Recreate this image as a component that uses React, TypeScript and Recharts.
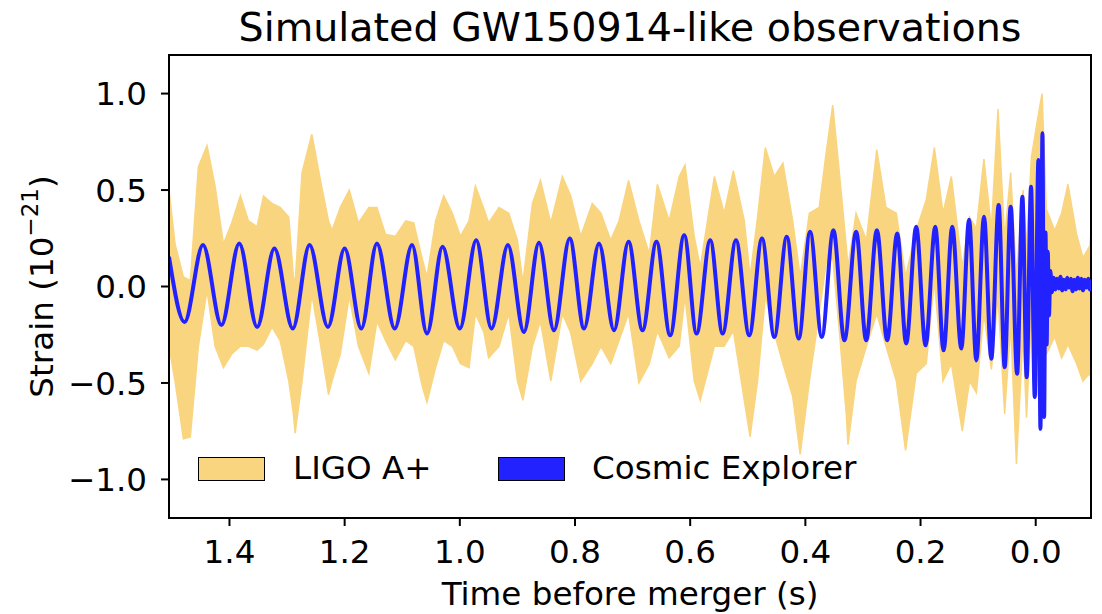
import { Area, ComposedChart, Line, ReferenceArea, XAxis, YAxis } from 'recharts'

// Cosmic Explorer trace: turning points (time before merger in s, strain in 1e-21)
const ceTime = [
  1.505, 1.478, 1.446, 1.414, 1.383, 1.352, 1.322, 1.29, 1.261, 1.229,
  1.2, 1.171, 1.144, 1.113, 1.083, 1.057, 1.03, 1.0, 0.9715, 0.945,
  0.9165, 0.8887, 0.8626, 0.8365, 0.8092, 0.7843, 0.7583, 0.7322, 0.7071, 0.6828,
  0.6585, 0.6348, 0.6104, 0.5889, 0.5652, 0.5437, 0.5205, 0.4974, 0.4753, 0.4539,
  0.4323, 0.4115, 0.3918, 0.3715, 0.3513, 0.3322, 0.3118, 0.2944, 0.2758, 0.2579,
  0.2405, 0.2249, 0.2075, 0.1913, 0.1744, 0.16, 0.1449, 0.1292, 0.1157, 0.1031,
  0.0898, 0.0771, 0.0643, 0.0539, 0.0435, 0.0323, 0.0231, 0.0157, 0.0081, 0.0017,
  -0.0047, -0.0082, -0.0117, -0.0146, -0.017, -0.019, -0.021, -0.023, -0.0255, -0.028,
  -0.031, -0.034, -0.037, -0.04, -0.043, -0.046, -0.049, -0.052, -0.055, -0.058,
  -0.061, -0.064, -0.067, -0.07, -0.073, -0.076, -0.079, -0.082, -0.085, -0.088,
  -0.091, -0.094, -0.096,
]
const ceStrain = [
  0.154, -0.184, 0.215, -0.2, 0.223, -0.21, 0.197, -0.218, 0.215, -0.21,
  0.197, -0.218, 0.223, -0.218, 0.215, -0.244, 0.206, -0.218, 0.24, -0.218,
  0.215, -0.236, 0.227, -0.227, 0.249, -0.218, 0.223, -0.227, 0.232, -0.227,
  0.232, -0.253, 0.266, -0.244, 0.24, -0.244, 0.24, -0.253, 0.249, -0.262,
  0.258, -0.27, 0.284, -0.262, 0.292, -0.279, 0.284, -0.279, 0.292, -0.279,
  0.275, -0.296, 0.31, -0.305, 0.31, -0.331, 0.31, -0.322, 0.346, -0.383,
  0.362, -0.374, 0.422, -0.418, 0.414, -0.452, 0.465, -0.47, 0.517, -0.573,
  0.656, -0.738, 0.795, -0.677, 0.28, -0.3, 0.18, -0.15, 0.08, -0.03,
  0.045, -0.015, 0.04, -0.01, 0.05, -0.02, 0.035, -0.015, 0.045, -0.005,
  0.04, -0.025, 0.035, -0.015, 0.045, -0.01, 0.04, -0.02, 0.035, -0.005,
  0.04, -0.015, 0.035,
]

// LIGO A+ trace: lower / upper extent of the noisy band at each sample time
const ligoTime = [
  1.505, 1.4945, 1.48, 1.468, 1.454, 1.439, 1.425, 1.4105, 1.396, 1.381,
  1.367, 1.352, 1.341, 1.326, 1.312, 1.297, 1.289, 1.286, 1.274, 1.257,
  1.242, 1.228, 1.222, 1.2075, 1.192, 1.176, 1.158, 1.144, 1.129, 1.112,
  1.094, 1.08, 1.065, 1.057, 1.042, 1.028, 1.013, 0.999, 0.984, 0.973,
  0.958, 0.95, 0.932, 0.915, 0.9, 0.8905, 0.874, 0.86, 0.842, 0.822,
  0.8075, 0.79, 0.77, 0.755, 0.738, 0.7235, 0.707, 0.689, 0.671, 0.657,
  0.6365, 0.619, 0.609, 0.593, 0.5825, 0.558, 0.541, 0.525, 0.506, 0.496,
  0.483, 0.4695, 0.454, 0.439, 0.422, 0.409, 0.393, 0.376, 0.364, 0.3525,
  0.341, 0.329, 0.326, 0.312, 0.294, 0.276, 0.26, 0.242, 0.226, 0.2075,
  0.19, 0.176, 0.161, 0.1465, 0.1275, 0.115, 0.103, 0.09, 0.077, 0.0655,
  0.054, 0.0435, 0.0335, 0.022, 0.016, 0.0075, -0.004, -0.011, -0.0185, -0.033,
  -0.045, -0.056, -0.071, -0.082, -0.094, -0.096,
]
const ligoLow = [
  -0.31, -0.49, -0.79, -0.78, -0.31, -0.02, -0.31, -0.42, -0.35, -0.31,
  -0.31, -0.33, -0.3, -0.21, -0.28, -0.49, -0.66, -0.76, -0.49, -0.04,
  -0.3, -0.56, -0.49, -0.35, -0.05, -0.31, -0.45, -0.18, -0.28, -0.38,
  -0.28, -0.31, -0.52, -0.6, -0.42, -0.28, -0.31, -0.4, -0.42, -0.14,
  -0.24, -0.37, -0.31, -0.14, -0.49, -0.59, -0.31, -0.18, -0.49, -0.14,
  -0.24, -0.49, -0.4, -0.31, -0.4, -0.28, -0.14, -0.5, -0.4, -0.23,
  -0.37, -0.31, -0.05, -0.49, -0.59, -0.31, -0.31, -0.23, -0.59, -0.78,
  -0.49, -0.05, -0.24, -0.4, -0.57, -0.87, -0.49, -0.14, 0.12, 0.15,
  -0.23, -0.66, -0.82, -0.49, -0.31, -0.14, -0.31, -0.49, -0.85, -0.45,
  -0.4, 0.03, -0.49, -0.4, -0.75, -0.49, -0.55, -0.14, -0.43, -0.05,
  -0.66, -0.2, -0.92, -0.25, -0.68, -0.15, -0.57, -0.3, -0.35, -0.26,
  -0.37, -0.3, -0.4, -0.49, -0.45, -0.48,
]
const ligoHigh = [
  0.5, 0.22, 0.05, 0.03, 0.62, 0.73, 0.52, 0.22, 0.33, 0.47,
  0.34, 0.31, 0.47, 0.43, 0.41, 0.36, 0.05, 0.02, 0.59, 0.79,
  0.55, 0.34, 0.29, 0.41, 0.5, 0.33, 0.41, 0.41, 0.27, 0.26,
  0.34, 0.33, 0.14, 0.05, 0.34, 0.47, 0.38, 0.26, 0.34, 0.52,
  0.4, 0.33, 0.41, 0.38, 0.24, 0.02, 0.43, 0.55, 0.33, 0.57,
  0.47, 0.26, 0.43, 0.38, 0.24, 0.34, 0.55, 0.34, 0.17, 0.53,
  0.34, 0.57, 0.63, 0.26, 0.1, 0.57, 0.38, 0.6, 0.34, 0.05,
  0.36, 0.72, 0.57, 0.64, 0.34, 0.05, 0.38, 0.41, 0.69, 0.94,
  0.59, 0.21, 0.1, 0.38, 0.24, 0.71, 0.41, 0.38, 0.05, 0.29,
  0.45, 0.72, 0.38, 0.57, 0.1, 0.36, 0.3, 0.66, 0.3, 0.92,
  0.25, 0.59, 0.05, 0.5, 0.2, 0.67, 0.88, 1.0, 0.4, 0.29,
  0.38, 0.53, 0.27, 0.15, 0.21, 0.28,
]

const xTicks = [1.4, 1.2, 1.0, 0.8, 0.6, 0.4, 0.2, 0.0]
const yTicks = [-1.0, -0.5, 0.0, 0.5, 1.0]
const xDomain: [number, number] = [-0.096, 1.505]
const yDomain: [number, number] = [-1.2, 1.2]

const LIGO_COLOR = '#fad580'
const CE_COLOR = '#2222ff'
const FONT = 'DejaVu Sans'
const FS = 32.6

const ceData = ceTime.map((t, i) => ({ t, strain: ceStrain[i] }))
const ligoData = ligoTime.map((t, i) => ({ t, band: [ligoLow[i], ligoHigh[i]] }))

const fmt = (v: number) => v.toFixed(1).replace('-', '\u2212')

const tickStyle = { fontSize: FS, fill: '#000', fontFamily: FONT }
const lineStyle = { stroke: '#000', strokeWidth: 2 }

function YLabel(props: any) {
  const vb = props.viewBox
  const cx = vb.x + 53
  const cy = vb.y + vb.height / 2
  return (
    <text x={cx} y={cy} transform={`rotate(-90 ${cx} ${cy})`} textAnchor="middle" fontSize={FS} fontFamily={FONT} fill="#000">
      Strain (10<tspan dy={-15} fontSize={23}>{'\u221221'}</tspan>
      <tspan dy={15}>)</tspan>
    </text>
  )
}

function XLabel(props: any) {
  const vb = props.viewBox
  return (
    <text x={vb.x + vb.width / 2} y={vb.y + 87} textAnchor="middle" fontSize={FS} fontFamily={FONT} fill="#000">
      Time before merger (s)
    </text>
  )
}

function LegendItem({ color, label, left, textLeft }: { color: string; label: string; left: number; textLeft: number }) {
  return (
    <>
      <div style={{ position: 'absolute', left, top: 457, width: 67, height: 24, background: color, border: '1.5px solid #000', boxSizing: 'border-box' }} />
      <div style={{ position: 'absolute', left: textLeft, top: 452, fontSize: FS, lineHeight: 1, whiteSpace: 'nowrap' }}>{label}</div>
    </>
  )
}

export default function App() {
  return (
    <div style={{ position: 'absolute', left: 0, top: 0, width: 1102, height: 614, background: '#fff', fontFamily: FONT }}>
      <ComposedChart width={1102} height={614} margin={{ top: 55, right: 11, bottom: 0, left: 0 }}>
        <XAxis
          dataKey="t"
          type="number"
          domain={xDomain}
          reversed
          allowDataOverflow
          ticks={xTicks}
          interval={0}
          tickFormatter={fmt}
          tick={tickStyle}
          tickLine={lineStyle}
          axisLine={lineStyle}
          tickSize={8}
          tickMargin={14}
          height={96}
          label={{ content: XLabel }}
        />
        <YAxis
          type="number"
          domain={yDomain}
          allowDataOverflow
          ticks={yTicks}
          interval={0}
          tickFormatter={fmt}
          tick={tickStyle}
          tickLine={lineStyle}
          axisLine={lineStyle}
          tickSize={8}
          tickMargin={14}
          width={169}
          label={{ content: YLabel }}
        />
        <Area
          data={ligoData}
          dataKey="band"
          type="linear"
          fill={LIGO_COLOR}
          fillOpacity={1}
          stroke={LIGO_COLOR}
          strokeWidth={1.5}
          isAnimationActive={false}
        />
        <Line
          data={ceData}
          dataKey="strain"
          type="monotone"
          stroke={CE_COLOR}
          strokeWidth={4}
          dot={false}
          isAnimationActive={false}
        />
        <ReferenceArea x1={xDomain[0]} x2={xDomain[1]} y1={yDomain[0]} y2={yDomain[1]} fill="none" stroke="#000" strokeWidth={2} ifOverflow="visible" />
      </ComposedChart>
      <div style={{ position: 'absolute', left: 0, width: 1260, top: 8, textAlign: 'center', fontSize: 39.6, lineHeight: 1, whiteSpace: 'nowrap' }}>
        Simulated GW150914-like observations
      </div>
      <LegendItem color={LIGO_COLOR} label="LIGO A+" left={198} textLeft={293} />
      <LegendItem color={CE_COLOR} label="Cosmic Explorer" left={498} textLeft={592} />
    </div>
  )
}
